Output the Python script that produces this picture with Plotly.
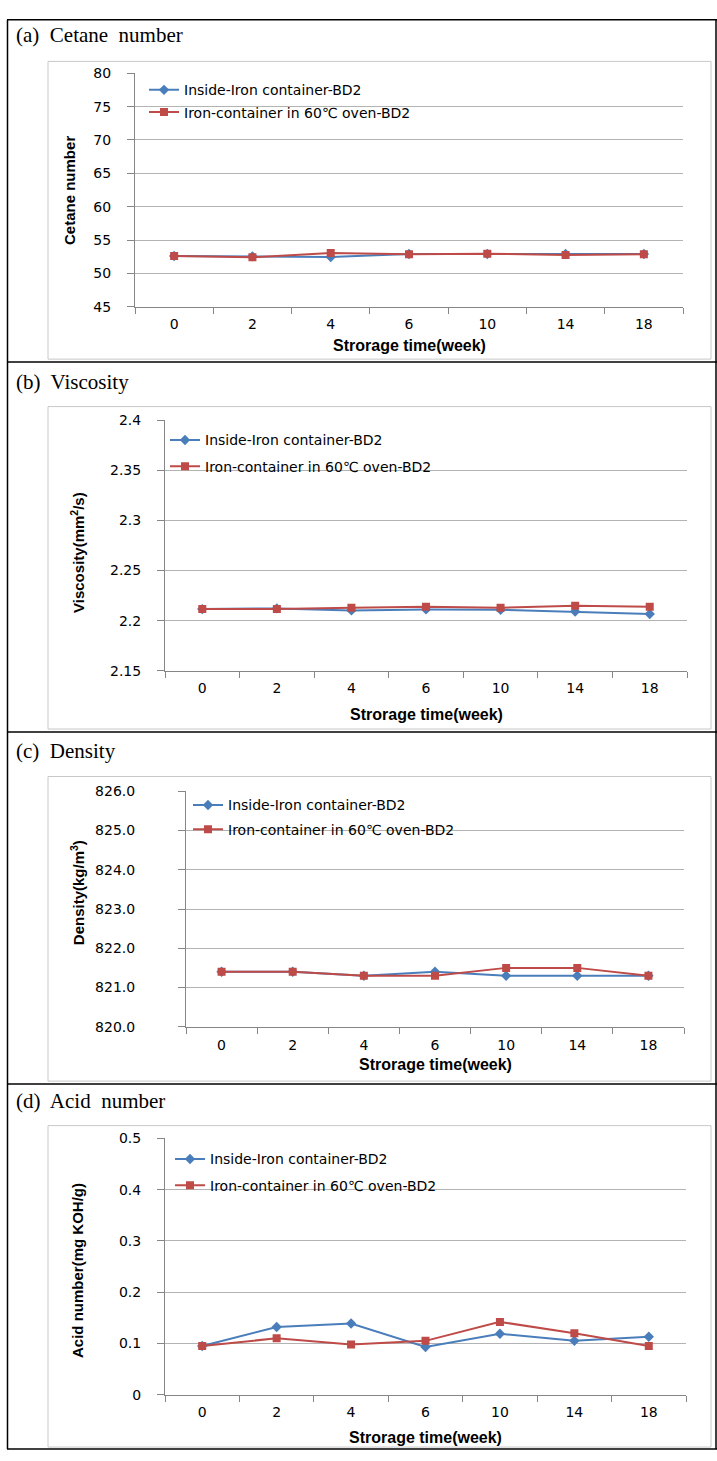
import plotly.graph_objects as go

W, H = 717, 1461

weeks = ["0", "2", "4", "6", "10", "14", "18"]
series_names = ["Inside-Iron container-BD2", "Iron-container in 60\u2103 oven-BD2"]

cetane_inside = [52.6, 52.55, 52.45, 52.9, 52.9, 52.9, 52.9]
cetane_oven = [52.6, 52.4, 53.05, 52.85, 52.95, 52.75, 52.85]

visc_inside = [2.2115, 2.2122, 2.2102, 2.2112, 2.2109, 2.2090, 2.2066]
visc_oven = [2.2115, 2.2115, 2.2128, 2.2138, 2.2128, 2.2148, 2.2138]

dens_inside = [821.4, 821.4, 821.3, 821.4, 821.3, 821.3, 821.3]
dens_oven = [821.4, 821.4, 821.3, 821.3, 821.5, 821.5, 821.3]

acid_inside = [0.095, 0.132, 0.139, 0.093, 0.119, 0.105, 0.113]
acid_oven = [0.095, 0.110, 0.098, 0.105, 0.142, 0.120, 0.095]

cetane_ticks = [45, 50, 55, 60, 65, 70, 75, 80]
cetane_ticktext = ["45", "50", "55", "60", "65", "70", "75", "80"]
visc_ticks = [2.15, 2.2, 2.25, 2.3, 2.35, 2.4]
visc_ticktext = ["2.15", "2.2", "2.25", "2.3", "2.35", "2.4"]
dens_ticks = [820, 821, 822, 823, 824, 825, 826]
dens_ticktext = ["820.0", "821.0", "822.0", "823.0", "824.0", "825.0", "826.0"]
acid_ticks = [0, 0.1, 0.2, 0.3, 0.4, 0.5]
acid_ticktext = ["0", "0.1", "0.2", "0.3", "0.4", "0.5"]

panel_titles = ["(a)  Cetane  number", "(b)  Viscosity", "(c)  Density", "(d)  Acid  number"]
y_titles = ["Cetane number", "Viscosity(mm<sup>2</sup>/s)", "Density(kg/m<sup>3</sup>)", "Acid number(mg KOH/g)"]
x_title = "Strorage time(week)"

BLUE = "#4A7EBB"
RED = "#BE4B48"
TICKFONT = dict(family="DejaVu Sans", size=14, color="#000000")
LEGFONT = dict(family="DejaVu Sans", size=14, color="#000000")
BOLDFONT = dict(family="Liberation Sans", size=16, color="#000000")
YBOLDFONT = dict(family="Liberation Sans", size=15, color="#000000")
SERIF = dict(family="Liberation Serif, Times New Roman", size=21, color="#000000")


def px(x):
    return x / W


def py(y):
    return 1 - y / H


panels = [
    dict(data=(cetane_inside, cetane_oven), ticks=(cetane_ticks, cetane_ticktext), rng=[45, 80],
         plot=(135, 683, 66, 302), box=(48, 711, 54, 355), title_y=27, legend=(144, 67, 1),
         ytitle=(70, 185), xtitle_y=341, ystand=13),
    dict(data=(visc_inside, visc_oven), ticks=(visc_ticks, visc_ticktext), rng=[2.15, 2.4],
         plot=(165, 687, 417, 670), box=(48, 711, 403, 729), title_y=378, legend=(165, 421, 5),
         ytitle=(78, 551), xtitle_y=714, ystand=13),
    dict(data=(dens_inside, dens_oven), ticks=(dens_ticks, dens_ticktext), rng=[820, 826],
         plot=(186, 684, 792, 1030), box=(48, 711, 777, 1085), title_y=751, legend=(188, 790, 3),
         ytitle=(77, 895), xtitle_y=1068, ystand=40),
    dict(data=(acid_inside, acid_oven), ticks=(acid_ticks, acid_ticktext), rng=[0, 0.5],
         plot=(165, 686, 1143, 1402), box=(48, 711, 1130, 1455), title_y=1105, legend=(170, 1148, 5),
         ytitle=(77, 1277), xtitle_y=1445, ystand=13),
]

fig = go.Figure()
shapes = []
annotations = []
layout = {}

for i, p in enumerate(panels):
    n = "" if i == 0 else str(i + 1)
    xa, ya = "x" + n, "y" + n
    leg = "legend" + n
    inside, oven = p["data"]
    fig.add_trace(go.Scatter(x=weeks, y=inside, name=series_names[0], xaxis=xa, yaxis=ya,
                             mode="lines+markers", legend=leg, legendgroup="a" + n,
                             line=dict(color=BLUE, width=2),
                             marker=dict(symbol="diamond", size=8, color=BLUE)))
    fig.add_trace(go.Scatter(x=weeks, y=oven, name=series_names[1], xaxis=xa, yaxis=ya,
                             mode="lines+markers", legend=leg, legendgroup="b" + n,
                             line=dict(color=RED, width=2),
                             marker=dict(symbol="square", size=8, color=RED)))
    x0, x1, y0, y1 = p["plot"]
    layout["xaxis" + n] = dict(domain=[px(x0), px(x1)], anchor=ya, type="category",
                               range=[-0.5, 6.5], tickson="boundaries", ticks="outside",
                               ticklen=6, tickcolor="#868686", showline=True, linecolor="#868686",
                               showgrid=False, tickfont=TICKFONT, zeroline=False, fixedrange=True,
                               ticklabelstandoff=5)
    tv, tt = p["ticks"]
    layout["yaxis" + n] = dict(domain=[py(y1), py(y0)], anchor=xa, range=p["rng"],
                               tickvals=tv, ticktext=tt, ticks="outside", ticklen=7,
                               tickcolor="#868686", showline=True, linecolor="#868686",
                               showgrid=True, gridcolor="#B3B3B3", gridwidth=1,
                               tickfont=TICKFONT, zeroline=False, fixedrange=True,
                               ticklabelstandoff=p["ystand"])
    lx, ly, gap = p["legend"]
    layout[leg] = dict(x=px(lx), y=py(ly), xanchor="left", yanchor="top",
                       bgcolor="rgba(0,0,0,0)", font=LEGFONT, itemwidth=30,
                       tracegroupgap=gap, traceorder="grouped")
    bx0, bx1, by0, by1 = p["box"]
    shapes.append(dict(type="rect", xref="paper", yref="paper", x0=px(bx0), x1=px(bx1),
                       y0=py(by1), y1=py(by0), line=dict(color="#C8C8C8", width=1),
                       layer="below"))
    annotations.append(dict(text=panel_titles[i], xref="paper", yref="paper", x=px(14),
                            y=py(p["title_y"]), xanchor="left", yanchor="middle",
                            showarrow=False, font=SERIF))
    tx, ty = p["ytitle"]
    annotations.append(dict(text="<b>" + y_titles[i] + "</b>", xref="paper", yref="paper",
                            x=px(tx), y=py(ty), textangle=-90,
                            xanchor="center", yanchor="middle", showarrow=False, font=YBOLDFONT))
    annotations.append(dict(text="<b>" + x_title + "</b>", xref="paper", yref="paper",
                            x=px((x0 + x1) / 2), y=py(p["xtitle_y"]), xanchor="center",
                            yanchor="middle", showarrow=False, font=BOLDFONT))

# table borders
for yv in [12, 358, 732, 1088, 1457]:
    shapes.append(dict(type="line", xref="paper", yref="paper", x0=px(7), x1=px(717),
                       y0=py(yv), y1=py(yv), line=dict(color="#000000", width=1.5)))
for xv in [7.5, 716]:
    shapes.append(dict(type="line", xref="paper", yref="paper", x0=px(xv), x1=px(xv),
                       y0=py(12), y1=py(1457), line=dict(color="#000000", width=1.5)))

fig.update_layout(width=W, height=H, margin=dict(l=0, r=0, t=0, b=0),
                  paper_bgcolor="#FFFFFF", plot_bgcolor="rgba(0,0,0,0)",
                  showlegend=True, shapes=shapes, annotations=annotations, **layout)

fig.write_html("out.html", config={"displayModeBar": False},
               post_script="document.body.style.margin='0';document.body.style.padding='0';"
                           "document.body.style.overflow='hidden';")
